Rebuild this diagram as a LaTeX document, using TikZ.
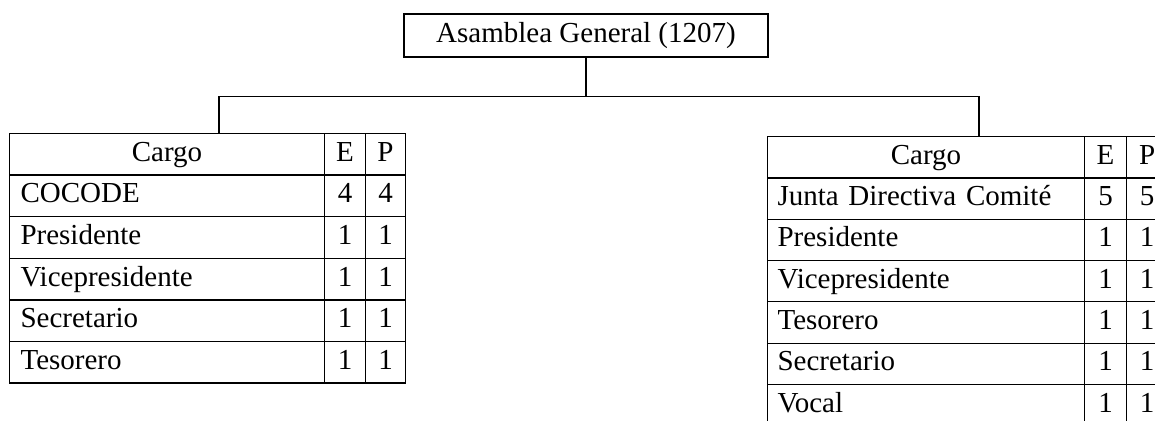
\documentclass[tikz,border=0pt]{standalone}
\usepackage{fontspec}
\setmainfont{Liberation Serif}
\begin{document}
\begin{tikzpicture}[x=1pt,y=-1pt,line width=1.1pt,
  every node/.style={font=\fontsize{29}{34}\selectfont,inner sep=0pt},
  cell/.style={draw,anchor=north west,minimum height=41.4,text height=20,text depth=6},
  hdr/.style={cell,align=center},
  txt/.style={cell,align=left,inner xsep=11,text width=293},
  num/.style={cell,align=center}]
\useasboundingbox (0,0) rectangle (1155,420);
\clip (0,0) rectangle (1155,420);
% top box
\node[draw,minimum width=364,minimum height=43] (ag) at (586,35.5) {Asamblea General (1207)};
% left table
\node[hdr,minimum width=315] (lh) at (9,133) {Cargo};
\node[num,minimum width=41] (lhe) at (324,133) {E};
\node[num,minimum width=40] (lhp) at (365,133) {P};
\foreach \t/\e/\p [count=\i] in {COCODE/4/4,Presidente/1/1,Vicepresidente/1/1,Secretario/1/1,Tesorero/1/1}{
  \node[txt] (l\i) at (9,133+\i*41.6) {\t};
  \node[num,minimum width=41] (le\i) at (324,133+\i*41.6) {\e};
  \node[num,minimum width=40] (lp\i) at (365,133+\i*41.6) {\p};
}
% right table
\node[hdr,minimum width=317] (rh) at (767,136) {Cargo};
\node[num,minimum width=42] (rhe) at (1084,136) {E};
\node[num,minimum width=41] (rhp) at (1126,136) {P};
\foreach \t/\e/\p [count=\i] in {Junta Directiva Comité/5/5,Presidente/1/1,Vicepresidente/1/1,Tesorero/1/1,Secretario/1/1,Vocal/1/1}{
  \node[txt,inner xsep=10,text width=297] (r\i) at (767,136+\i*41.3) {\t};
  \node[num,minimum width=42] (re\i) at (1084,136+\i*41.3) {\e};
  \node[num,minimum width=41] (rp\i) at (1126,136+\i*41.3) {\p};
}
% connectors
\coordinate (jl) at (219,96.5);
\coordinate (jr) at (979,96.5);
\draw (ag.south) -- (ag.south |- jl);
\draw (lh.north -| jl) -- (jl) -- (jr) -- (rh.north -| jr);
\end{tikzpicture}
\end{document}
